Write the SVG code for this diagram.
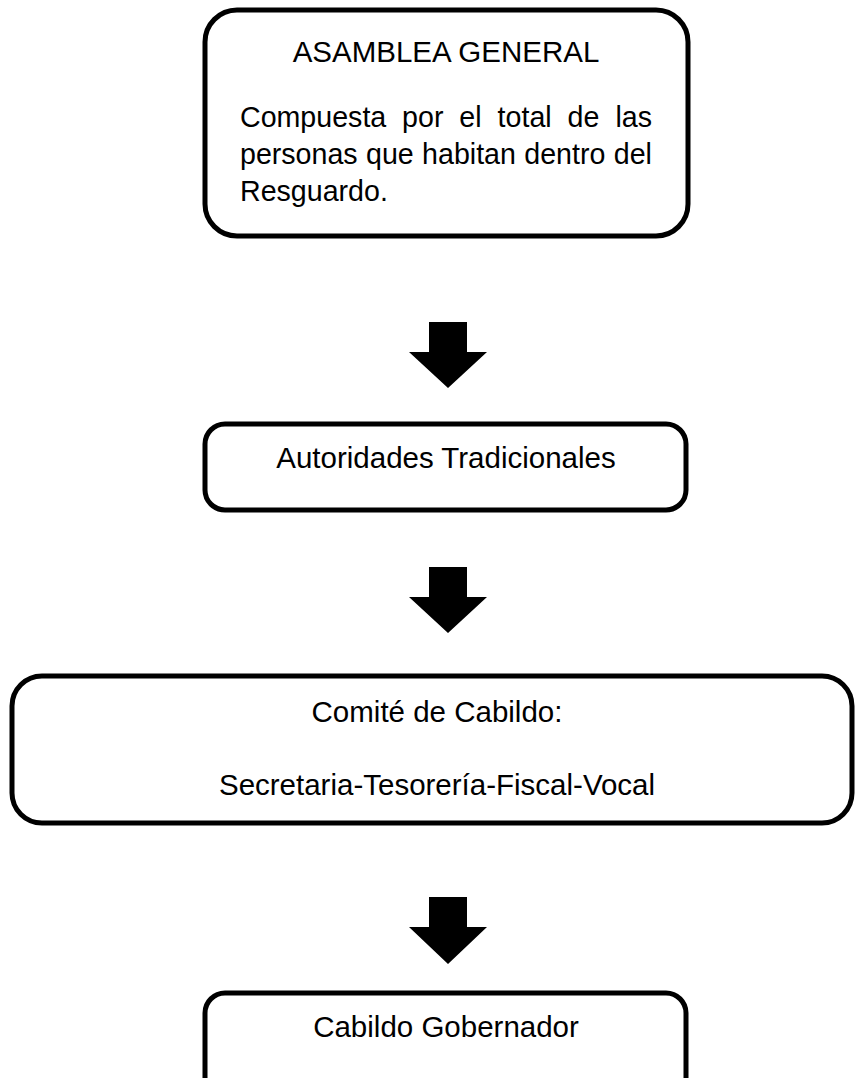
<svg xmlns="http://www.w3.org/2000/svg" width="857" height="1078" viewBox="0 0 857 1078">
<style>
.box{fill:#fff;stroke:#000;stroke-width:5}
.t{font-family:"Liberation Sans",Arial,sans-serif;font-size:29.5px;fill:#000}
.b{font-size:28.6px}
.c{text-anchor:middle}
.arrow{fill:#000}
</style>
<rect width="857" height="1078" fill="#fff"/>
<g id="asamblea">
<rect class="box" x="205" y="10" width="483" height="226" rx="32"/>
<text class="t c" x="446" y="62">ASAMBLEA GENERAL</text>
<text class="t b" y="127"><tspan x="240">Compuesta</tspan><tspan x="402.1">por</tspan><tspan x="459.3">el</tspan><tspan x="497.6">total</tspan><tspan x="567.6">de</tspan><tspan x="615.4">las</tspan></text>
<text class="t b" y="164"><tspan x="240">personas</tspan><tspan x="366">que</tspan><tspan x="422.1">habitan</tspan><tspan x="524.3">dentro</tspan><tspan x="613.8">del</tspan></text>
<text class="t b" x="240" y="201">Resguardo.</text>
</g>
<g id="autoridades">
<rect class="box" x="205" y="424" width="481" height="86" rx="20"/>
<text class="t c" x="446" y="468">Autoridades Tradicionales</text>
</g>
<g id="comite">
<rect class="box" x="12" y="676" width="840" height="147" rx="30"/>
<text class="t c" x="437" y="722">Comité de Cabildo:</text>
<text class="t c" x="437" y="795">Secretaria-Tesorería-Fiscal-Vocal</text>
</g>
<g id="gobernador">
<rect class="box" x="205" y="993" width="481" height="120" rx="20"/>
<text class="t c" x="446" y="1037">Cabildo Gobernador</text>
</g>
<g id="connectors">
<polygon class="arrow" points="429,322 467,322 467,352 487,352 448,388 409,352 429,352"/>
<polygon class="arrow" points="429,567 467,567 467,597 487,597 448,633 409,597 429,597"/>
<polygon class="arrow" points="429,897 467,897 467,927 487,927 448,964 409,927 429,927"/>
</g>
</svg>
